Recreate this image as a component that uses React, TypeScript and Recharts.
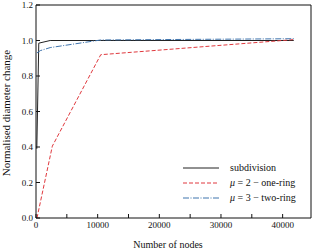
import React from 'react';
import { LineChart, Line, XAxis, YAxis } from 'recharts';

const subdivisionNodes = [130, 450, 2300, 10500, 41800];
const subdivisionChange = [0.39, 0.985, 1.0, 1.0, 1.0];

const oneRingNodes = [160, 2650, 10500, 41800];
const oneRingChange = [0.0, 0.405, 0.92, 1.005];

const twoRingNodes = [160, 700, 2300, 10500, 41800];
const twoRingChange = [0.93, 0.943, 0.96, 1.003, 1.01];

const xTicks = [0, 5000, 10000, 15000, 20000, 25000, 30000, 35000, 40000];
const yTicks = [0, 0.2, 0.4, 0.6, 0.8, 1.0, 1.2];

const toRows = (xs: number[], ys: number[]) => xs.map((n, i) => ({ n, v: ys[i] }));

const series = [
  { name: 'subdivision', data: toRows(subdivisionNodes, subdivisionChange), color: '#222222', dash: undefined as string | undefined },
  { name: 'μ = 2 − one-ring', data: toRows(oneRingNodes, oneRingChange), color: '#e0393e', dash: '4 2' },
  { name: 'μ = 3 − two-ring', data: toRows(twoRingNodes, twoRingChange), color: '#3f74ad', dash: '6 1.5 1 1.5' },
];

const FONT = '"Liberation Serif", "DejaVu Serif", serif';

function LegendBox() {
  return (
    <div style={{ position: 'absolute', left: 183, top: 160, fontFamily: FONT, fontSize: 10, color: '#111', lineHeight: '15px' }}>
      {series.map((s) => {
        const [sym, ...rest] = s.name.split(' ');
        return (
          <div key={s.name} style={{ display: 'flex', alignItems: 'center', height: 15 }}>
            <svg width={36} height={6} style={{ marginRight: 11 }}>
              <line x1={0} y1={3} x2={36} y2={3} stroke={s.color} strokeWidth={1} strokeDasharray={s.dash} />
            </svg>
            {sym === 'μ' ? (
              <span><i>μ</i> {rest.join(' ')}</span>
            ) : (
              <span>{s.name}</span>
            )}
          </div>
        );
      })}
    </div>
  );
}

const tickStyle = { fontFamily: FONT, fontSize: 9, fill: '#111' };

export default function App() {
  return (
    <div style={{ position: 'absolute', left: 0, top: 0, width: 314, height: 250, background: '#fff' }}>
      <LineChart width={314} height={250} margin={{ top: 4, right: 2, bottom: 0, left: 0 }}>
        <XAxis
          xAxisId="b"
          dataKey="n"
          type="number"
          domain={[0, 44600]}
          ticks={xTicks}
          allowDataOverflow
          height={32}
          tickSize={-4}
          tickMargin={8}
          tickFormatter={(v: number) => (v % 10000 === 0 ? String(v) : '')}
          tick={tickStyle}
          axisLine={{ stroke: '#111' }}
          tickLine={{ stroke: '#111' }}
          label={{
            content: () => (
              <text x={168} y={248} textAnchor="middle" fontFamily={FONT} fontSize={10} fill="#111">
                Number of nodes
              </text>
            ),
          }}
        />
        <XAxis
          xAxisId="t"
          dataKey="n"
          type="number"
          orientation="top"
          domain={[0, 44600]}
          ticks={xTicks}
          allowDataOverflow
          height={1}
          tickSize={-4}
          tick={false}
          axisLine={{ stroke: '#111' }}
          tickLine={{ stroke: '#111' }}
        />
        <YAxis
          yAxisId="l"
          type="number"
          domain={[0, 1.2]}
          ticks={yTicks}
          width={36}
          tickSize={-4}
          tickMargin={7}
          tickFormatter={(v: number) => v.toFixed(1)}
          tick={tickStyle}
          axisLine={{ stroke: '#111' }}
          tickLine={{ stroke: '#111' }}
          label={{
            content: () => (
              <text x={10} y={113} transform="rotate(-90 10 113)" textAnchor="middle" fontFamily={FONT} fontSize={11} fill="#111">
                Normalised diameter change
              </text>
            ),
          }}
        />
        <YAxis
          yAxisId="r"
          type="number"
          orientation="right"
          domain={[0, 1.2]}
          ticks={yTicks}
          width={1}
          tickSize={-4}
          tick={false}
          axisLine={{ stroke: '#111' }}
          tickLine={{ stroke: '#111' }}
        />
        {series.map((s) => (
          <Line
            key={s.name}
            xAxisId="b"
            yAxisId="l"
            data={s.data}
            dataKey="v"
            name={s.name}
            type="linear"
            stroke={s.color}
            strokeWidth={1}
            strokeDasharray={s.dash}
            dot={false}
            activeDot={false}
            isAnimationActive={false}
          />
        ))}
        {/* invisible companions so the top/right frame axes get drawn */}
        <Line
          xAxisId="t"
          yAxisId="r"
          data={series[0].data}
          dataKey="v"
          stroke="none"
          dot={false}
          activeDot={false}
          legendType="none"
          isAnimationActive={false}
        />
      </LineChart>
      <LegendBox />
    </div>
  );
}
